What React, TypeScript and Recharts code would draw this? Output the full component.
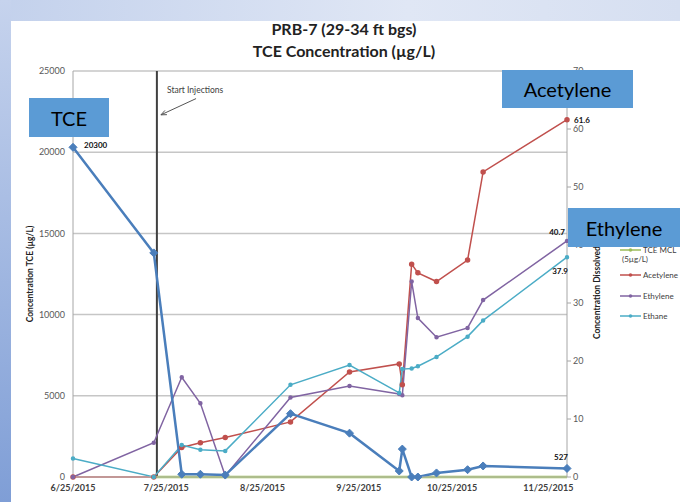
import React from 'react';
import {
  ComposedChart,
  Line,
  XAxis,
  YAxis,
  CartesianGrid,
  ReferenceLine,
  LabelList,
} from 'recharts';

const sampleDates = [
  '2015-06-25', '2015-07-21', '2015-07-30', '2015-08-05', '2015-08-13',
  '2015-09-03', '2015-09-22', '2015-10-08', '2015-10-09', '2015-10-12',
  '2015-10-14', '2015-10-20', '2015-10-30', '2015-11-04', '2015-12-01',
];
const tceValues = [20300, 13800, 170, 170, 120, 3900, 2700, 370, 1720, 0, 0, 250, 450, 680, 527];
const mclValues = [null, 5, 5, 5, 5, 5, 5, 5, 5, 5, 5, 5, 5, 5, 5];
const acetyleneValues = [0, 0, 5.1, 5.9, 6.8, 9.5, 18.1, 19.5, 15.9, 36.7, 35.2, 33.7, 37.4, 52.6, 61.6];
const ethyleneValues = [0, 5.9, 17.2, 12.7, 0.2, 13.7, 15.7, 14.3, 14.1, 33.7, 27.4, 24.1, 25.7, 30.5, 40.7];
const ethaneValues = [3.2, 0, 5.5, 4.7, 4.5, 15.9, 19.3, 14.5, 18.6, 18.7, 19.1, 20.7, 24.2, 27.0, 37.9];

const dateTicks = ['2015-06-25', '2015-07-25', '2015-08-25', '2015-09-25', '2015-10-25', '2015-11-25'];
const axisEndDate = '2015-12-01';
const injectionDate = '2015-07-22';
const tceTicks = [0, 5000, 10000, 15000, 20000, 25000];
const gasTicks = [0, 10, 20, 30, 40, 50, 60, 70];

const colors = {
  tce: '#4A7EBB',
  mcl: '#9BBB59',
  acetylene: '#C0504D',
  ethylene: '#8064A2',
  ethane: '#4BACC6',
  callout: '#5B9BD5',
};

const font = 'Lato, "Liberation Sans", sans-serif';
const DAY = 86400000;
const startMs = Date.parse(sampleDates[0]);
const dayOf = (s: string) => Math.round((Date.parse(s) - startMs) / DAY);
const dateLabel = (day: number) => {
  const d = new Date(startMs + day * DAY);
  return `${d.getUTCMonth() + 1}/${d.getUTCDate()}/${d.getUTCFullYear()}`;
};

const chartData = sampleDates.map((s, i) => ({
  day: dayOf(s),
  tce: tceValues[i],
  mcl: mclValues[i],
  acetylene: acetyleneValues[i],
  ethylene: ethyleneValues[i],
  ethane: ethaneValues[i],
}));
const lastIndex = sampleDates.length - 1;

const Diamond = (props: any) => {
  const { cx, cy, index } = props;
  if (cx == null || cy == null) return <g key={`d-${index}`} />;
  const r = 4;
  return (
    <path
      key={`d-${index}`}
      d={`M${cx},${cy - r}L${cx + r},${cy}L${cx},${cy + r}L${cx - r},${cy}Z`}
      fill={colors.tce}
      stroke={colors.tce}
    />
  );
};

const pointLabel =
  (show: number[], dx: number, dy: number, anchor: 'start' | 'middle' | 'end') =>
  (props: any) => {
    const { x, y, value, index } = props;
    if (!show.includes(index)) return null;
    return (
      <text
        x={x + dx}
        y={y + dy}
        textAnchor={anchor}
        fontSize={8}
        fontWeight="bold"
        fontFamily={font}
        fill="#111"
      >
        {value}
      </text>
    );
  };

const AxisTitle = (props: any) => {
  const { viewBox, value, offsetX } = props;
  const cx = viewBox.x + offsetX;
  const cy = viewBox.y + viewBox.height / 2;
  return (
    <text
      x={cx}
      y={cy}
      transform={`rotate(-90 ${cx} ${cy})`}
      textAnchor="middle"
      dominantBaseline="central"
      fontSize={8.5}
      fontWeight="bold"
      fontFamily={font}
      fill="#222"
    >
      {value}
    </text>
  );
};

const InjectionArrow = (props: any) => {
  const { x1, y1, x2, y2 } = props;
  const ang = Math.atan2(y2 - y1, x2 - x1);
  const len = 6;
  const a1 = ang + Math.PI - 0.4;
  const a2 = ang + Math.PI + 0.4;
  return (
    <g>
      <line x1={x1} y1={y1} x2={x2} y2={y2} stroke="#555" strokeWidth={1} />
      <polyline
        points={`${x2 + len * Math.cos(a1)},${y2 + len * Math.sin(a1)} ${x2},${y2} ${x2 + len * Math.cos(a2)},${y2 + len * Math.sin(a2)}`}
        fill="none"
        stroke="#555"
        strokeWidth={1}
      />
      <text x={x1 - 29} y={y1 - 6} fontSize={8.5} fontFamily={font} fill="#404040">
        Start Injections
      </text>
    </g>
  );
};

const legendItems = [
  { name: 'TCE MCL', color: colors.mcl, y: 250 },
  { name: 'Acetylene', color: colors.acetylene, y: 275 },
  { name: 'Ethylene', color: colors.ethylene, y: 296 },
  { name: 'Ethane', color: colors.ethane, y: 316 },
];

const Callout = ({ text, left, top, width, height }: any) => (
  <div
    style={{
      position: 'absolute',
      left,
      top,
      width,
      height,
      background: colors.callout,
      color: '#000',
      fontFamily: font,
      fontSize: 20,
      display: 'flex',
      alignItems: 'center',
      justifyContent: 'center',
    }}
  >
    {text}
  </div>
);

export default function App() {
  const injectionDay = dayOf(injectionDate);
  return (
    <div
      style={{
        position: 'absolute',
        left: 0,
        top: 0,
        width: 680,
        height: 502,
        overflow: 'hidden',
        background: '#fff',
        fontFamily: font,
      }}
    >
      <div
        style={{
          position: 'absolute',
          left: 0,
          top: 0,
          width: 680,
          height: 21,
          background: 'linear-gradient(to right, #c3d1ec, #e0e7f5 60%, #d6dff1)',
        }}
      />
      <div
        style={{
          position: 'absolute',
          left: 0,
          top: 0,
          width: 11,
          height: 502,
          background: 'linear-gradient(to bottom, #c6d3ed, #7f9ed6)',
        }}
      />
      <div
        style={{
          position: 'absolute',
          left: 0,
          top: 18,
          width: 688,
          textAlign: 'center',
          fontSize: 16,
          fontWeight: 'bold',
          lineHeight: '22px',
          color: '#222',
        }}
      >
        <div>PRB-7 (29-34 ft bgs)</div>
        <div>TCE Concentration (µg/L)</div>
      </div>

      <ComposedChart
        width={680}
        height={502}
        data={chartData}
        margin={{ top: 71, right: 73, bottom: 5, left: 13 }}
        style={{ position: 'absolute', left: 0, top: 0 }}
      >
        <CartesianGrid yAxisId="tce" vertical={false} stroke="#c6c6c6" strokeWidth={1.5} />
        <XAxis
          dataKey="day"
          type="number"
          domain={[0, dayOf(axisEndDate)]}
          ticks={dateTicks.map(dayOf)}
          tickFormatter={dateLabel}
          tickLine={false}
          height={20}
          stroke="#bfbfbf"
          tick={{ fontSize: 9, fontWeight: 'bold', fill: '#404040', fontFamily: font }}
        />
        <YAxis
          yAxisId="tce"
          domain={[0, 25000]}
          ticks={tceTicks}
          width={60}
          tickLine={false}
          stroke="#a6a6a6"
          tick={{ fontSize: 9, fill: '#595959', fontFamily: font }}
          label={<AxisTitle value="Concentration TCE (µg/L)" offsetX={17} />}
        />
        <YAxis
          yAxisId="gas"
          orientation="right"
          domain={[0, 70]}
          ticks={gasTicks}
          width={40}
          tickSize={4}
          stroke="#a6a6a6"
          tick={{ fontSize: 9, fill: '#595959', fontFamily: font }}
          label={<AxisTitle value="Concentration Dissolved Gas (ppb)" offsetX={30} />}
        />
        <ReferenceLine yAxisId="tce" x={injectionDay} stroke="#404040" strokeWidth={2} />
        <ReferenceLine
          yAxisId="tce"
          segment={[
            { x: 39.6, y: 23300 },
            { x: 28.3, y: 22300 },
          ]}
          shape={<InjectionArrow />}
        />
        <Line
          yAxisId="tce"
          dataKey="mcl"
          stroke={colors.mcl}
          strokeWidth={2.5}
          dot={false}
          isAnimationActive={false}
        />
        <Line
          yAxisId="gas"
          dataKey="acetylene"
          stroke={colors.acetylene}
          strokeWidth={1.5}
          dot={{ r: 2, fill: colors.acetylene, stroke: colors.acetylene }}
          isAnimationActive={false}
        >
          <LabelList dataKey="acetylene" content={pointLabel([lastIndex], 7, 3, 'start')} />
        </Line>
        <Line
          yAxisId="gas"
          dataKey="ethylene"
          stroke={colors.ethylene}
          strokeWidth={1.5}
          dot={{ r: 1.5, fill: colors.ethylene, stroke: colors.ethylene }}
          isAnimationActive={false}
        >
          <LabelList dataKey="ethylene" content={pointLabel([lastIndex], -2, -6, 'end')} />
        </Line>
        <Line
          yAxisId="gas"
          dataKey="ethane"
          stroke={colors.ethane}
          strokeWidth={1.5}
          dot={{ r: 1.5, fill: colors.ethane, stroke: colors.ethane }}
          isAnimationActive={false}
        >
          <LabelList dataKey="ethane" content={pointLabel([lastIndex], 1, 17, 'end')} />
        </Line>
        <Line
          yAxisId="tce"
          dataKey="tce"
          stroke={colors.tce}
          strokeWidth={2.5}
          dot={<Diamond />}
          isAnimationActive={false}
        >
          <LabelList dataKey="tce" content={pointLabel([0], 11, 1, 'start')} />
          <LabelList dataKey="tce" content={pointLabel([lastIndex], 1, -8, 'end')} />
        </Line>
      </ComposedChart>

      {legendItems.map((item) => (
        <div
          key={item.name}
          style={{
            position: 'absolute',
            left: 620,
            top: item.y - 6,
            height: 12,
            display: 'flex',
            alignItems: 'center',
            fontSize: 8,
            color: '#404040',
            whiteSpace: 'nowrap',
          }}
        >
          <svg width={21} height={12} style={{ marginRight: 2 }}>
            <line x1={0} y1={6} x2={21} y2={6} stroke={item.color} strokeWidth={1.5} />
            <circle cx={10.5} cy={6} r={1.8} fill={item.color} />
          </svg>
          {item.name}
        </div>
      ))}
      <div style={{ position: 'absolute', left: 622, top: 254, fontSize: 8, color: '#404040' }}>
        (5µg/L)
      </div>

      <Callout text="TCE" left={29} top={98} width={80} height={39} />
      <Callout text="Acetylene" left={502} top={70} width={131} height={38} />
      <Callout text="Ethylene" left={568} top={208} width={112} height={39} />
    </div>
  );
}
